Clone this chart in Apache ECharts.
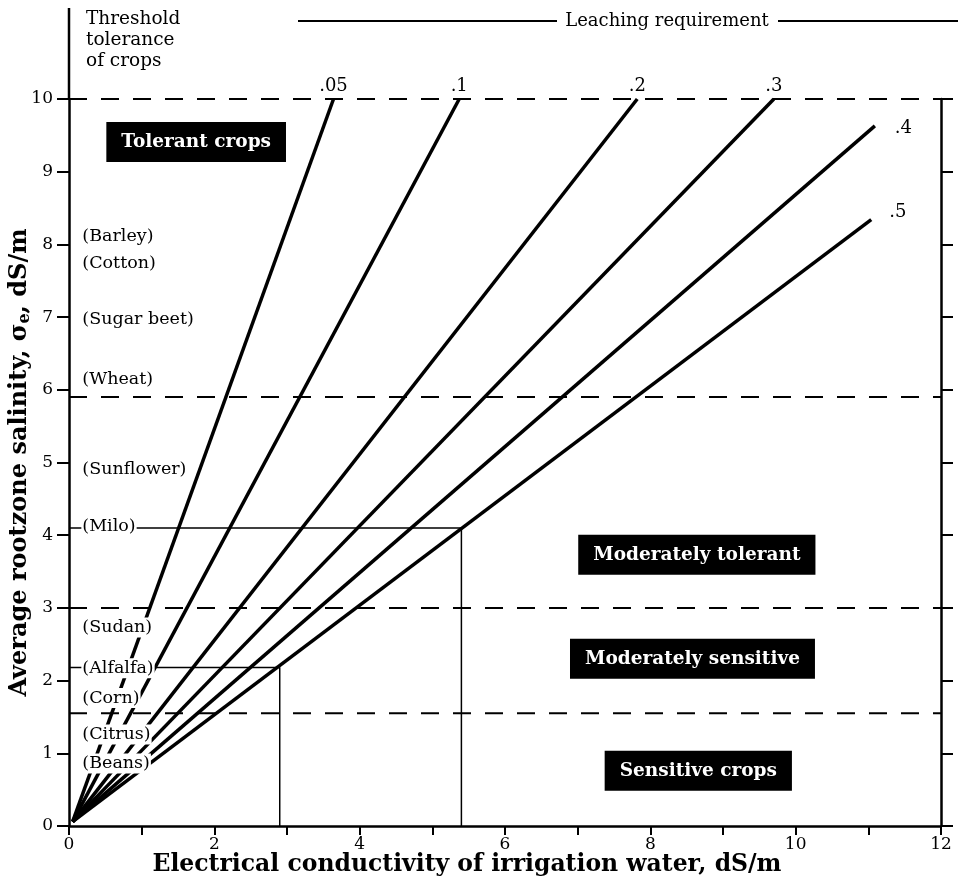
<!DOCTYPE html>
<html><head><meta charset="utf-8">
<script src="https://cdn.jsdelivr.net/npm/echarts@6/dist/echarts.min.js"></script>
<style>html,body{margin:0;padding:0;background:#fff}#c{width:965px;height:891px}</style>
</head><body><div id="c"></div>
<script>
// ---- data ----
const leachingLabels = ['.05', '.1', '.2', '.3', '.4', '.5'];
const lineStartX = [0.05, 0.05, 0.05, 0.05, 0.05, 0.05];
const lineStartY = [0.06, 0.06, 0.06, 0.06, 0.06, 0.06];
const lineEndX = [3.64, 5.37, 7.82, 9.70, 11.09, 11.04];
const lineEndY = [10, 10, 10, 10, 9.63, 8.34];
const thresholdY = [10, 5.9, 3.0, 1.55];
const crops = ['(Barley)', '(Cotton)', '(Sugar beet)', '(Wheat)', '(Sunflower)', '(Milo)', '(Sudan)', '(Alfalfa)', '(Corn)', '(Citrus)', '(Beans)'];
const cropY = [8.11, 7.74, 6.97, 6.14, 4.91, 4.12, 2.73, 2.17, 1.76, 1.26, 0.86];
const cropX = 0.17;
const zoneNames = ['Tolerant crops', 'Moderately tolerant', 'Moderately sensitive', 'Sensitive crops'];
const zoneX = [1.75, 8.64, 8.58, 8.66];
const zoneY = [9.41, 3.73, 2.30, 0.76];
const exampleNames = ['Milo', 'Alfalfa'];
const exampleSalinity = [4.1, 2.18];
const exampleWater = [5.4, 2.9];
const xMin = 0, xMax = 12, xStep = 2;
const yMin = 0, yMax = 10, yStep = 1;

const FONT = 'DejaVu Serif';
const chart = echarts.init(document.getElementById('c'), null, {renderer: 'canvas'});

const series = [];
// dashed threshold lines
thresholdY.forEach((y, i) => {
  series.push({
    type: 'line', name: 'th' + i, data: [[xMin, y], [xMax, y]],
    symbol: 'none', silent: true, z: 2,
    lineStyle: {color: '#000', width: 2, type: [18, 14]}
  });
});
// example lines (Milo, Alfalfa)
exampleNames.forEach((n, i) => {
  series.push({
    type: 'line', name: n, data: [[0, exampleSalinity[i]], [exampleWater[i], exampleSalinity[i]], [exampleWater[i], 0]],
    symbol: 'none', silent: true, z: 3,
    lineStyle: {color: '#000', width: 1.5}
  });
});
// leaching requirement lines
const lblPos = [
  {position: 'top', distance: 4},
  {position: 'top', distance: 4},
  {position: 'top', distance: 4},
  {position: 'top', distance: 4},
  {position: 'right', distance: 20, offset: [0, 2]},
  {position: 'right', distance: 18, offset: [0, -7]}
];
leachingLabels.forEach((lab, i) => {
  series.push({
    type: 'line', name: 'LR' + lab,
    data: [[lineStartX[i], lineStartY[i]], {value: [lineEndX[i], lineEndY[i]], label: Object.assign({show: true, formatter: lab, color: '#000', fontFamily: FONT, fontSize: 18}, lblPos[i])}],
    symbol: 'circle', symbolSize: 0, showSymbol: true, silent: true, z: 4,
    lineStyle: {color: '#000', width: 3.5, cap: 'butt'},
    itemStyle: {color: '#000', opacity: 1}
  });
});
// crop labels
series.push({
  type: 'scatter', name: 'crops', symbolSize: 0, silent: true, z: 10,
  itemStyle: {opacity: 1, color: '#fff'},
  data: crops.map((c, i) => ({name: c, value: [cropX, cropY[i]]})),
  label: {show: true, formatter: '{b}', position: 'right', distance: 0, color: '#000', fontFamily: FONT, fontSize: 17.5,
    backgroundColor: '#fff', padding: [1, 1, 1, 1]}
});
// zone labels
series.push({
  type: 'scatter', name: 'zones', symbolSize: 0, silent: true, z: 10,
  itemStyle: {opacity: 1, color: '#000'},
  data: zoneNames.map((c, i) => ({name: c, value: [zoneX[i], zoneY[i]]})),
  label: {show: true, formatter: '{b}', position: 'inside', color: '#fff', fontFamily: FONT, fontSize: 18.5, fontWeight: 'bold',
    backgroundColor: '#000', padding: [11, 15, 10, 15]}
});

const option = {
  animation: false,
  backgroundColor: '#fff',
  grid: {left: 69, right: 24, top: 99, bottom: 65, containLabel: false, outerBoundsMode: 'none'},
  xAxis: {
    type: 'value', min: xMin, max: xMax, interval: xStep,
    axisLine: {show: true, onZero: false, lineStyle: {color: '#000', width: 2.5}},
    axisTick: {show: true, length: 9, lineStyle: {color: '#000', width: 2}},
    minorTick: {show: true, splitNumber: 2, length: 9, lineStyle: {color: '#000', width: 2}},
    splitLine: {show: false}, minorSplitLine: {show: false},
    axisLabel: {color: '#000', fontFamily: FONT, fontSize: 17, margin: 10}
  },
  yAxis: [{
    type: 'value', min: yMin, max: yMax, interval: yStep, position: 'left',
    axisLine: {show: true, onZero: false, lineStyle: {color: '#000', width: 2.5}},
    axisTick: {show: true, length: 12, lineStyle: {color: '#000', width: 2}},
    splitLine: {show: false},
    axisLabel: {color: '#000', fontFamily: FONT, fontSize: 17, margin: 16},
    name: 'Average rootzone salinity, σ{sub|e}, dS/m', nameLocation: 'middle', nameGap: 36, nameRotate: 90,
    nameMoveOverlap: false,
    nameTextStyle: {color: '#000', fontFamily: FONT, fontSize: 24, fontWeight: 'bold',
      rich: {sub: {fontFamily: FONT, fontSize: 16, fontWeight: 'bold', color: '#000', padding: [10, 0, 0, 0]}}}
  }, {
    type: 'value', min: yMin, max: yMax, interval: yStep, position: 'right',
    axisLine: {show: true, onZero: false, lineStyle: {color: '#000', width: 2.5}},
    axisTick: {show: true, length: 12, lineStyle: {color: '#000', width: 2}},
    splitLine: {show: false},
    axisLabel: {show: false}
  }],
  series: series
};
chart.setOption(option);

// decorations positioned from the axes
const p0 = chart.convertToPixel({gridIndex: 0}, [xMin, yMin]);
const pTop = chart.convertToPixel({gridIndex: 0}, [xMin, yMax]);
chart.setOption({
  graphic: [
    {type: 'line', silent: true, z: 20, shape: {x1: p0[0], y1: 8, x2: pTop[0], y2: pTop[1]}, style: {stroke: '#000', lineWidth: 2.5}},
    {type: 'text', silent: true, z: 20, left: 86, top: 9, style: {text: 'Threshold\ntolerance\nof crops', font: '18.5px "DejaVu Serif"', lineHeight: 21, fill: '#000'}},
    {type: 'line', silent: true, z: 20, shape: {x1: 298, y1: 21, x2: 557, y2: 21}, style: {stroke: '#000', lineWidth: 2}},
    {type: 'text', silent: true, z: 20, x: 667, y: 21, style: {text: 'Leaching requirement', font: '18px "DejaVu Serif"', fill: '#000', align: 'center', verticalAlign: 'middle'}},
    {type: 'line', silent: true, z: 20, shape: {x1: 778, y1: 21, x2: 958, y2: 21}, style: {stroke: '#000', lineWidth: 2}},
    {type: 'text', silent: true, z: 20, x: 467, y: 865, style: {text: 'Electrical conductivity of irrigation water, dS/m', font: 'bold 23.5px "DejaVu Serif"', fill: '#000', align: 'center', verticalAlign: 'middle'}}
  ]
});
</script>
</body></html>
